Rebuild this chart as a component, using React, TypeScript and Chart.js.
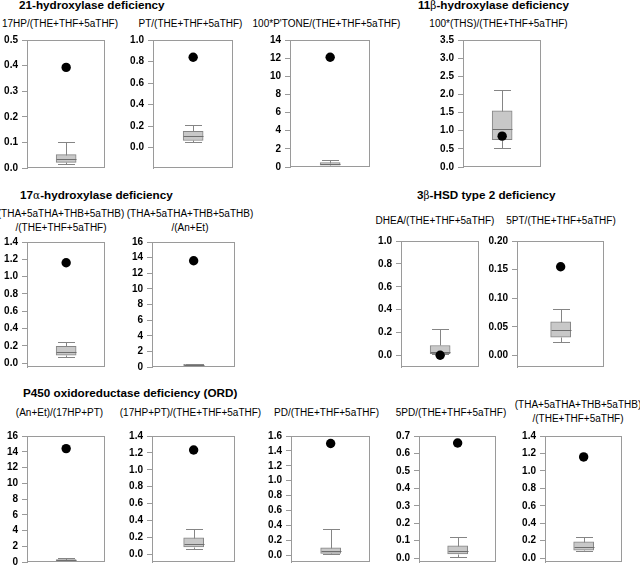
import React, { useEffect, useRef, useMemo } from 'react';
import { Chart, registerables } from 'chart.js';

Chart.register(...registerables);

const FONT = '"Liberation Sans", Arial, Helvetica, sans-serif';

// ---------------- data ----------------
const groupTitles = [
  '21-hydroxylase deficiency',
  '11β-hydroxylase deficiency',
  '17α-hydroxylase deficiency',
  '3β-HSD type 2 deficiency',
  'P450 oxidoreductase deficiency (ORD)',
];

const ratioNames: string[][] = [
  ['17HP/(THE+THF+5aTHF)'],
  ['PT/(THE+THF+5aTHF)'],
  ["100*P'TONE/(THE+THF+5aTHF)"],
  ['100*(THS)/(THE+THF+5aTHF)'],
  ['(THA+5aTHA+THB+5aTHB)', '/(THE+THF+5aTHF)'],
  ['(THA+5aTHA+THB+5aTHB)', '/(An+Et)'],
  ['DHEA/(THE+THF+5aTHF)'],
  ['5PT/(THE+THF+5aTHF)'],
  ['(An+Et)/(17HP+PT)'],
  ['(17HP+PT)/(THE+THF+5aTHF)'],
  ['PD/(THE+THF+5aTHF)'],
  ['5PD/(THE+THF+5aTHF)'],
  ['(THA+5aTHA+THB+5aTHB)', '/(THE+THF+5aTHF)'],
];

// reference (control) distributions
const whiskerLow = [0.015, 0.05, 0.12, 0.53, 0.07, 0.12, 0.01, 0.023, 0.08, 0.069, 0.02, 0.009, 0.081];
const quartile1 = [0.022, 0.066, 0.2, 0.75, 0.093, 0.18, 0.017, 0.032, 0.12, 0.088, 0.026, 0.024, 0.092];
const medians = [0.036, 0.108, 0.33, 1.04, 0.131, 0.25, 0.035, 0.044, 0.2, 0.122, 0.052, 0.043, 0.13];
const quartile3 = [0.052, 0.15, 0.48, 1.55, 0.194, 0.33, 0.088, 0.059, 0.3, 0.195, 0.1, 0.07, 0.186];
const whiskerHigh = [0.1, 0.21, 0.8, 2.11, 0.24, 0.42, 0.235, 0.081, 0.5, 0.306, 0.35, 0.121, 0.24];
// patient values
const patientValues = [0.393, 0.84, 12.1, 0.85, 1.16, 13.6, 0.003, 0.155, 14.4, 1.235, 1.5, 0.66, 1.16];

// axis ranges
const axisMin = [0, -0.19, 0, 0, -0.045, 0, -0.1, -0.02, 0, -0.09, -0.09, -0.022, -0.044];
const axisMax = [0.5, 1.0, 14, 3.5, 1.4, 16, 1.0, 0.2, 16, 1.4, 1.6, 0.7, 1.4];

// tick values per panel
const ticks17HP = [0, 0.1, 0.2, 0.3, 0.4, 0.5];
const ticksPT = [0, 0.2, 0.4, 0.6, 0.8, 1.0];
const ticksPTONE = [0, 2, 4, 6, 8, 10, 12, 14];
const ticksTHS = [0, 0.5, 1.0, 1.5, 2.0, 2.5, 3.0, 3.5];
const ticks17aA = [0, 0.2, 0.4, 0.6, 0.8, 1.0, 1.2, 1.4];
const ticks17aB = [0, 2, 4, 6, 8, 10, 12, 14, 16];
const ticksDHEA = [0, 0.2, 0.4, 0.6, 0.8, 1.0];
const ticks5PT = [0, 0.05, 0.1, 0.15, 0.2];
const ticksAnEt = [0, 2, 4, 6, 8, 10, 12, 14, 16];
const ticks17HPPT = [0, 0.2, 0.4, 0.6, 0.8, 1.0, 1.2, 1.4];
const ticksPD = [0, 0.2, 0.4, 0.6, 0.8, 1.0, 1.2, 1.4, 1.6];
const ticks5PD = [0, 0.1, 0.2, 0.3, 0.4, 0.5, 0.6, 0.7];
const ticksORD = [0, 0.2, 0.4, 0.6, 0.8, 1.0, 1.2, 1.4];
const tickValues = [
  ticks17HP, ticksPT, ticksPTONE, ticksTHS,
  ticks17aA, ticks17aB, ticksDHEA, ticks5PT,
  ticksAnEt, ticks17HPPT, ticksPD, ticks5PD, ticksORD,
];
const tickDecimals = [1, 1, 0, 1, 1, 0, 1, 2, 0, 1, 1, 1, 1];

// ---------------- layout ----------------
const FRAMES = [
  [27, 38, 107, 170],
  [153, 38, 235, 170],
  [290, 38, 372, 169],
  [463, 38, 543, 169],
  [27, 240, 107, 369],
  [152, 240, 237, 369],
  [401, 239, 481, 369],
  [517, 239, 606, 369],
  [27, 434, 107, 564],
  [152, 434, 237, 564],
  [291, 434, 372, 564],
  [419, 434, 498, 564],
  [545, 434, 624, 564],
];
const SUB_X = [60, 190.5, 326.5, 498.5, 61, 190, 435, 561, 59.5, 190.5, 326.5, 451, 578];
const SUB_BASE = [
  [27.5], [27.5], [27.5], [27.5],
  [217, 231.5], [217, 231.5], [224.5], [224.5],
  [416], [416], [416], [416], [408.5, 422],
];
const TITLE_POS = [[19, 8.7], [418, 8.7], [20, 198.5], [417, 198.5], [23, 396.5]];
// measured pixel widths of the two Greek-free titles in the reference
const TITLE_W0 = 144;
const TITLE_W4 = 217;

const AX = 30; // width reserved for y axis
const PT = 8;
const PB = 8;
const PR = 3;

const GRAY = '#9a9a9a';
const BOX_FILL = '#c8c8c8';
const BOX_LINE = '#858585';

const boxPlugin = {
  id: 'boxWhisker',
  afterDatasetDraw(chart: any, args: any, opts: any) {
    if (args.meta.type !== 'bar') return;
    const el = args.meta.data[0];
    if (!el) return;
    const y = chart.scales.y;
    const ctx = chart.ctx;
    const i = opts.index;
    const cx = Math.round(el.x) + 0.5;
    const py = (v: number) => Math.round(y.getPixelForValue(v)) + 0.5;
    const half = 10;
    const cap = 8.5;
    ctx.save();
    ctx.strokeStyle = BOX_LINE;
    ctx.lineWidth = 1;
    ctx.beginPath();
    ctx.moveTo(cx, py(quartile3[i]));
    ctx.lineTo(cx, py(whiskerHigh[i]));
    ctx.moveTo(cx - cap, py(whiskerHigh[i]));
    ctx.lineTo(cx + cap, py(whiskerHigh[i]));
    ctx.moveTo(cx, py(quartile1[i]));
    ctx.lineTo(cx, py(whiskerLow[i]));
    ctx.moveTo(cx - cap, py(whiskerLow[i]));
    ctx.lineTo(cx + cap, py(whiskerLow[i]));
    ctx.stroke();
    ctx.strokeStyle = '#6e6e6e';
    ctx.beginPath();
    ctx.moveTo(cx - half, py(medians[i]));
    ctx.lineTo(cx + half, py(medians[i]));
    ctx.stroke();
    ctx.restore();
  },
  afterDraw(chart: any) {
    const { left, top, right, bottom } = chart.chartArea;
    const ctx = chart.ctx;
    ctx.save();
    ctx.strokeStyle = GRAY;
    ctx.lineWidth = 1;
    ctx.strokeRect(Math.round(left) + 0.5, Math.round(top) + 0.5, Math.round(right - left) - 1, Math.round(bottom - top) - 1);
    ctx.restore();
  },
};

function Panel({ i }: { i: number }) {
  const ref = useRef<HTMLCanvasElement>(null);
  const [fl, ft, fr, fb] = FRAMES[i];
  const w = AX + (fr - fl) + PR;
  const h = PT + (fb - ft) + PB;
  useEffect(() => {
    if (!ref.current) return;
    const chart = new Chart(ref.current, {
      type: 'bar',
      data: {
        labels: [ratioNames[i].join(' ')],
        datasets: [
          {
            type: 'line',
            data: [patientValues[i]],
            showLine: false,
            pointRadius: 4.7,
            pointBackgroundColor: '#000',
            pointBorderColor: '#000',
            pointBorderWidth: 0,
            order: 1,
          } as any,
          {
            type: 'bar',
            data: [[quartile1[i], quartile3[i]]],
            backgroundColor: BOX_FILL,
            borderColor: BOX_LINE,
            borderWidth: 1,
            borderSkipped: false,
            barThickness: 20,
            order: 2,
          } as any,
        ],
      },
      options: {
        responsive: false,
        animation: false,
        events: [],
        layout: { padding: { top: PT, bottom: PB, left: 0, right: PR } },
        plugins: {
          legend: { display: false },
          tooltip: { enabled: false },
          boxWhisker: { index: i },
        } as any,
        scales: {
          x: { display: false },
          y: {
            min: axisMin[i],
            max: axisMax[i],
            afterBuildTicks: (s: any) => {
              s.ticks = tickValues[i].map((v) => ({ value: v }));
            },
            afterFit: (s: any) => {
              s.width = AX;
            },
            ticks: {
              font: { family: FONT, size: 10, weight: 'bold' },
              color: '#000',
              padding: 4,
              callback: (v: any) => Number(v).toFixed(tickDecimals[i]),
            },
            grid: {
              display: true,
              drawOnChartArea: false,
              drawTicks: true,
              tickLength: 5,
              color: GRAY,
            },
            border: { display: true, color: GRAY },
          } as any,
        },
      },
      plugins: [boxPlugin as any],
    });
    return () => chart.destroy();
  }, [i]);
  return (
    <canvas
      ref={ref}
      width={w}
      height={h}
      style={{ position: 'absolute', left: fl - AX, top: ft - PT, width: w, height: h }}
    />
  );
}

function Txt({ x, base, size, bold, center, children }: any) {
  const top = base - 0.8465 * size;
  return (
    <div
      style={{
        position: 'absolute',
        left: x,
        top,
        transform: center ? 'translateX(-50%)' : undefined,
        whiteSpace: 'nowrap',
        fontFamily: FONT,
        fontSize: size,
        lineHeight: `${size}px`,
        fontWeight: bold ? 'bold' : 'normal',
        color: '#000',
      }}
    >
      {children}
    </div>
  );
}

function renderTitle(t: string) {
  const parts = t.split(/([αβ])/);
  return parts.map((p, k) =>
    p === 'α' || p === 'β' ? (
      <span key={k} style={{ fontWeight: 'normal', fontFamily: '"DejaVu Serif", serif', fontSize: '0.9em' }}>
        {p}
      </span>
    ) : (
      <React.Fragment key={k}>{p}</React.Fragment>
    )
  );
}

export default function App() {
  const titleSize = useMemo(() => {
    const c = document.createElement('canvas').getContext('2d');
    if (!c) return 12;
    c.font = `bold 100px ${FONT}`;
    const s0 = (100 * TITLE_W0) / c.measureText(groupTitles[0]).width;
    const s4 = (100 * TITLE_W4) / c.measureText(groupTitles[4]).width;
    return (s0 + s4) / 2;
  }, []);
  return (
    <div
      style={{
        position: 'absolute',
        left: 0,
        top: 0,
        width: 640,
        height: 567,
        background: '#fff',
        overflow: 'hidden',
      }}
    >
      {groupTitles.map((t, k) => (
        <Txt key={'t' + k} x={TITLE_POS[k][0]} base={TITLE_POS[k][1]} size={titleSize} bold>
          {renderTitle(t)}
        </Txt>
      ))}
      {ratioNames.map((lines, i) =>
        lines.map((ln, j) => (
          <Txt key={'s' + i + '-' + j} x={SUB_X[i]} base={SUB_BASE[i][j]} size={10} center>
            {ln}
          </Txt>
        ))
      )}
      {ratioNames.map((_, i) => (
        <Panel key={'p' + i} i={i} />
      ))}
    </div>
  );
}
